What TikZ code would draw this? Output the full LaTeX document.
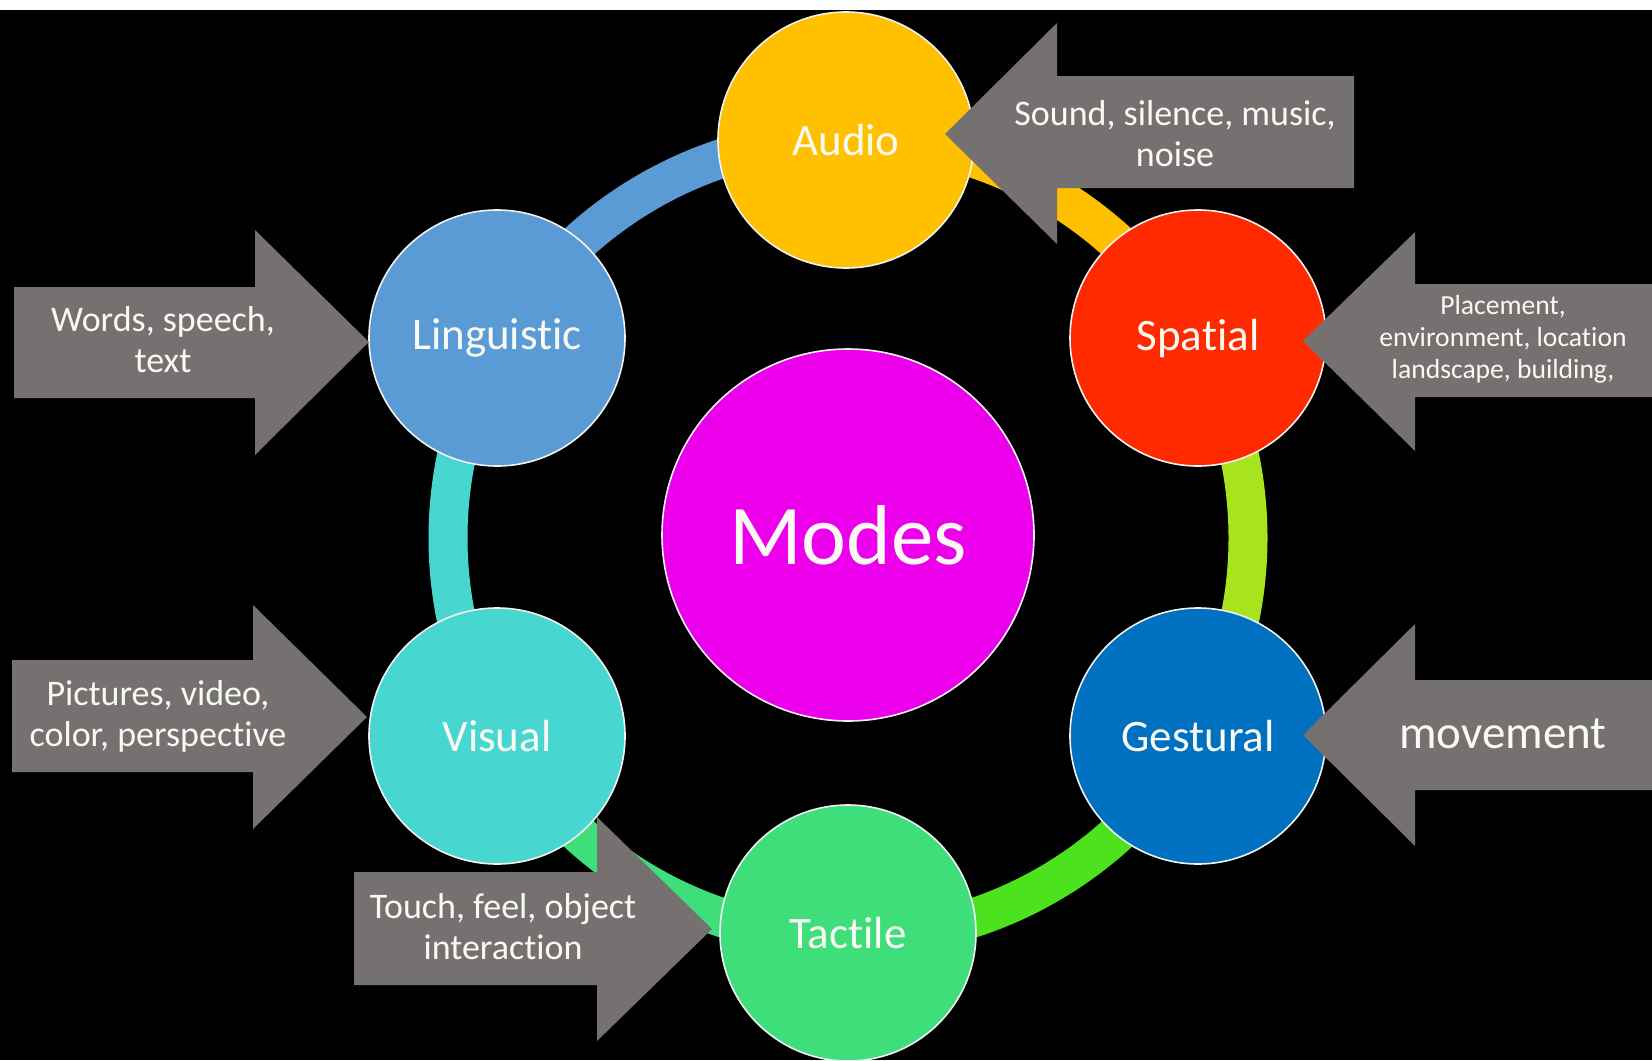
\documentclass[tikz,border=0pt]{standalone}
\usepackage{fontspec}
\setmainfont{Carlito}[Ligatures={NoCommon,NoContextual}]
\newcommand{\nolig}{\kern0pt{}}
\definecolor{cAudio}{RGB}{255,192,0}
\definecolor{cLing}{RGB}{91,155,213}
\definecolor{cSpat}{RGB}{255,42,0}
\definecolor{cGest}{RGB}{0,112,192}
\definecolor{cVis}{RGB}{72,214,208}
\definecolor{cTact}{RGB}{62,222,122}
\definecolor{cModes}{RGB}{236,0,236}
\definecolor{rLime}{RGB}{168,228,30}
\definecolor{rGreen}{RGB}{76,226,30}
\definecolor{agray}{RGB}{118,113,113}
\definecolor{txt}{RGB}{250,250,245}
\tikzset{
  modecirc/.style={circle, draw=white!90!gray, line width=0.8pt, minimum size=128pt, inner sep=0pt, text=txt, font=\fontsize{22.5}{24}\selectfont},
  ringseg/.style={line width=19.5pt},
  arrowbody/.style={fill=agray},
  arrowtext/.style={text=txt, align=center, inner sep=0pt, font=\fontsize{18}{20.5}\selectfont},
}
\begin{document}
\begin{tikzpicture}[x=0.5pt,y=-0.5pt]
\useasboundingbox (0,0) rectangle (1652,1060);
\fill[white] (0,0) rectangle (1652,10);
\fill[black] (0,10) rectangle (1652,1060);
\coordinate (C) at (848,538);
% ring
\draw[ringseg,draw=cLing] ([shift={(-150:400)}]C) arc[start angle=-150,end angle=-90,radius=400];
\draw[ringseg,draw=cAudio] ([shift={(-90:400)}]C) arc[start angle=-90,end angle=-30,radius=400];
\draw[ringseg,draw=rLime] ([shift={(-30:400)}]C) arc[start angle=-30,end angle=30,radius=400];
\draw[ringseg,draw=rGreen] ([shift={(30:400)}]C) arc[start angle=30,end angle=90,radius=400];
\draw[ringseg,draw=cTact] ([shift={(90:400)}]C) arc[start angle=90,end angle=150,radius=400];
\draw[ringseg,draw=cVis] ([shift={(150:400)}]C) arc[start angle=150,end angle=210,radius=400];
% tactile arrow (below circles)
\fill[arrowbody] (712,929) -- (597,817) -- (597,872) -- (354,872) -- (354,985) -- (597,985) -- (597,1041) -- cycle;
\node[arrowtext] (ttact) at (503,927) {Touch, feel, object\\interact\nolig ion};
% circles
\node[modecirc, fill=cModes, minimum size=186pt, font=\fontsize{42.5}{44}\selectfont] (modes) at (848,535) {Modes};
\node[modecirc, fill=cAudio] (audio) at (846,140) {Audio};
\node[modecirc, fill=cLing] (ling) at (497,338) {Linguist\nolig ic};
\node[modecirc, fill=cSpat] (spat) at (1198,338) {Spat\nolig ial};
\node[modecirc, fill=cVis] (vis) at (497,736) {Visual};
\node[modecirc, fill=cGest] (gest) at (1198,736) {Gestural};
\node[modecirc, fill=cTact] (tact) at (848,933) {Tact\nolig ile};
% arrows
\fill[arrowbody] (945,134) -- (1057,23) -- (1057,76) -- (1354,76) -- (1354,188) -- (1057,188) -- (1057,244) -- cycle;
\node[arrowtext] (taudio) at (1175,134) {Sound, silence, music,\\noise};
\fill[arrowbody] (1303,341) -- (1415,232) -- (1415,284) -- (1652,284) -- (1652,397) -- (1415,397) -- (1415,451) -- cycle;
\node[arrowtext, font=\fontsize{13.8}{16}\selectfont] (tspat) at (1503,339) {Placement,\\environment, locat\nolig ion\\landscape, building,};
\fill[arrowbody] (1303,735) -- (1415,624) -- (1415,680) -- (1652,680) -- (1652,790) -- (1415,790) -- (1415,846) -- cycle;
\node[arrowtext, font=\fontsize{23.5}{25}\selectfont] (tgest) at (1503,734) {movement};
\fill[arrowbody] (369,342) -- (255,230) -- (255,287) -- (14,287) -- (14,398) -- (255,398) -- (255,455) -- cycle;
\node[arrowtext] (tling) at (163,340) {Words, speech,\\text};
\fill[arrowbody] (367,717) -- (253,605) -- (253,660) -- (12,660) -- (12,772) -- (253,772) -- (253,829) -- cycle;
\node[arrowtext] (tvis) at (158,716) {Pictures, video,\\color, perspect\nolig ive};
\end{tikzpicture}
\end{document}
